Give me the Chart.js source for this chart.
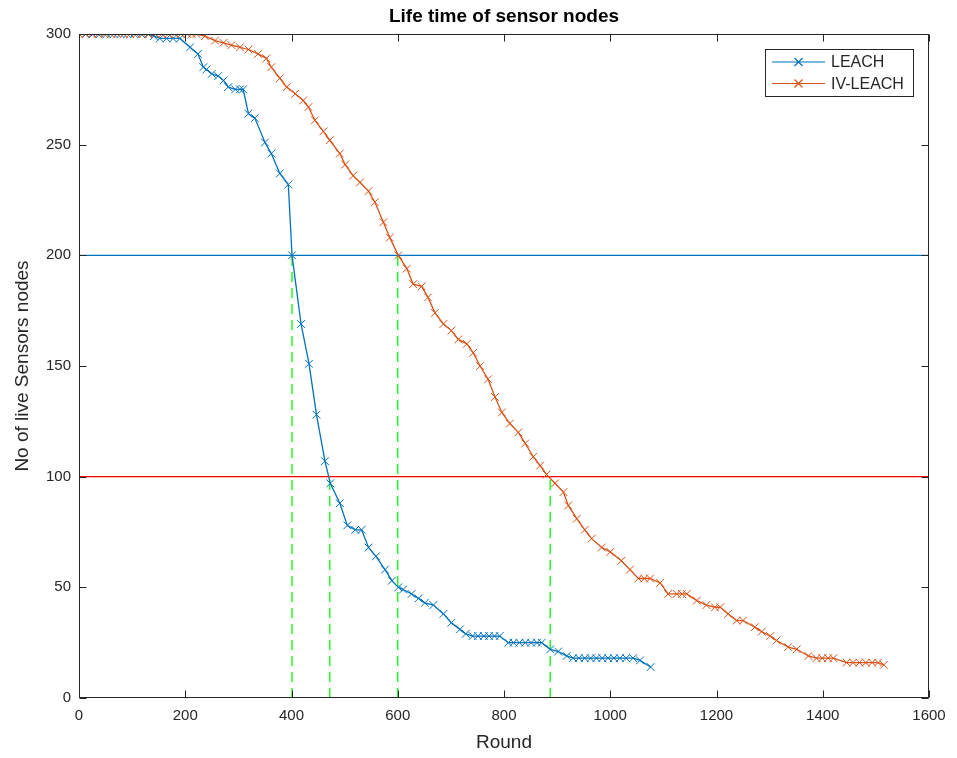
<!DOCTYPE html>
<html>
<head>
<meta charset="utf-8">
<title>Life time of sensor nodes</title>
<script src="https://cdn.jsdelivr.net/npm/chart.js@4.4.0/dist/chart.umd.min.js"></script>
<style>
  html, body { margin: 0; padding: 0; background: #fff; }
  #wrap { width: 957px; height: 758px; }
</style>
</head>
<body>
<div id="wrap"><canvas id="lifeChart" width="957" height="758"></canvas></div>
<script>
// LEACH - rounds / alive nodes
const leachRounds = [0,13,26,39,52,65,78,91,104,117,130,141,152,165,177,190,209,224,234,240,
  250,262,272,281,294,303,309,319,331,350,362,378,394,401,418,433,447,463,473,491,
  505,520,532,545,559,576,589,601,610,626,639,651,667,686,701,717,728,741,751,762,
  772,782,792,808,818,829,840,851,862,871,887,902,918,930,941,952,963,974,985,996,
  1007,1018,1030,1043,1056,1076];
const leachAlive = [300,300,300,300,300,300,300,300,300,300,300,299,298,298,298,298,294,291,285,284,
  282,281,279,276,275,275,275,264,262,251,246,237,232,200,169,151,128,107,97,88,
  78,76,76,68,64,58,53,50,49,47,45,43,42,38,34,31,29,28,28,28,
  28,28,28,25,25,25,25,25,25,25,22,21,19,18,18,18,18,18,18,18,
  18,18,18,18,17,14];

// IV-LEACH
const ivRounds = [0,12,24,36,48,60,72,84,96,108,120,132,144,156,168,180,192,204,212,221,
  237,256,272,287,303,319,337,353,362,378,391,407,422,432,444,460,472,491,501,516,
  529,545,557,573,585,601,617,629,645,657,670,686,701,714,730,742,755,770,783,796,
  811,827,840,855,868,880,896,912,921,937,952,965,984,1000,1021,1037,1053,1064,1075,1094,
  1109,1125,1135,1144,1163,1181,1197,1207,1222,1238,1250,1272,1285,1301,1313,1335,1351,1373,1388,1399,
  1410,1420,1445,1457,1469,1481,1493,1504,1515];
const ivAlive = [300,300,300,300,300,300,300,300,300,300,300,300,300,300,300,300,300,300,300,300,
  299,297,296,295,294,293,291,289,285,280,276,273,270,267,261,256,252,246,241,236,
  233,229,224,215,208,200,194,187,186,181,174,169,166,162,160,156,150,144,136,129,
  124,120,115,109,105,101,97,93,87,81,76,72,68,66,62,58,54,54,54,52,
  47,47,47,47,44,42,41,41,38,35,35,32,30,28,26,23,22,19,18,18,
  18,18,16,16,16,16,16,16,15];

// reference levels and where each curve crosses them
const levels = [200, 100];
const cross200 = [401, 600];
const cross100 = [472, 887];

const xTicks = [0,200,400,600,800,1000,1200,1400,1600];
const yTicks = [0,50,100,150,200,250,300];

const FONT = 'Arial, "Liberation Sans", Helvetica, sans-serif';
const INK = '#262626';
const BLUE = '#0072BD';
const ORANGE = '#D95319';

function pts(xs, ys) { return xs.map((v, i) => ({x: v, y: ys[i]})); }

function refLine(data, color, dash, ord) {
  return {
    label: '_ref', data: data, borderColor: color, borderWidth: 1.3,
    borderDash: dash, pointRadius: 0, fill: false, order: ord, tension: 0
  };
}

const refSets = [
  refLine([{x: 0, y: levels[0]}, {x: 1600, y: levels[0]}], BLUE, [], 5),
  refLine([{x: 0, y: levels[1]}, {x: 1600, y: levels[1]}], '#FF0000', [], 5)
];
cross200.forEach(r => refSets.push(refLine([{x: r, y: 0}, {x: r, y: levels[0]}], '#00FF00', [10, 6], 4)));
cross100.forEach(r => refSets.push(refLine([{x: r, y: 0}, {x: r, y: levels[1]}], '#00FF00', [10, 6], 4)));

const series = [
  {label: 'LEACH', color: BLUE},
  {label: 'IV-LEACH', color: ORANGE}
];

// box, inward ticks, title and legend drawn like the matlab figure
const matlabAxes = {
  id: 'matlabAxes',
  afterDraw(chart) {
    const {ctx, chartArea: a, scales} = chart;
    const L = Math.round(a.left) + 0.5, R = Math.round(a.right) - 0.5;
    const T = Math.round(a.top) + 0.5, B = Math.round(a.bottom) - 0.5;
    ctx.save();
    ctx.strokeStyle = INK;
    ctx.lineWidth = 1;
    ctx.strokeRect(L, T, R - L, B - T);
    ctx.beginPath();
    xTicks.forEach(v => {
      const px = Math.round(scales.x.getPixelForValue(v)) + 0.5;
      ctx.moveTo(px, B); ctx.lineTo(px, B - 7);
      ctx.moveTo(px, T); ctx.lineTo(px, T + 7);
    });
    yTicks.forEach(v => {
      const py = Math.round(scales.y.getPixelForValue(v)) + 0.5;
      ctx.moveTo(L, py); ctx.lineTo(L + 7, py);
      ctx.moveTo(R, py); ctx.lineTo(R - 7, py);
    });
    ctx.stroke();

    // title
    ctx.fillStyle = '#000';
    ctx.font = 'bold 19px ' + FONT;
    ctx.textAlign = 'center';
    ctx.textBaseline = 'middle';
    ctx.fillText('Life time of sensor nodes', (a.left + a.right) / 2, 17);

    // legend
    const bx = 765.5, by = 49.5, bw = 148, bh = 47;
    ctx.fillStyle = '#fff';
    ctx.fillRect(bx, by, bw, bh);
    ctx.strokeStyle = INK;
    ctx.strokeRect(bx, by, bw, bh);
    ctx.font = '16px ' + FONT;
    ctx.textAlign = 'left';
    series.forEach((s, i) => {
      const yy = 62 + i * 21.5;
      ctx.strokeStyle = s.color;
      ctx.lineWidth = 1.2;
      ctx.beginPath();
      ctx.moveTo(772, yy); ctx.lineTo(825, yy);
      ctx.moveTo(794.5, yy - 4); ctx.lineTo(802.5, yy + 4);
      ctx.moveTo(794.5, yy + 4); ctx.lineTo(802.5, yy - 4);
      ctx.stroke();
      ctx.fillStyle = INK;
      ctx.fillText(s.label, 831, yy + 1);
    });
    ctx.restore();
  }
};

const curve = (s, xs, ys, ord) => ({
  label: s.label, data: pts(xs, ys), borderColor: s.color, backgroundColor: s.color,
  borderWidth: 1.3, pointStyle: 'crossRot', pointRadius: 5.5, pointBorderWidth: 1,
  pointBorderColor: s.color, fill: false, tension: 0, order: ord
});

new Chart(document.getElementById('lifeChart'), {
  type: 'line',
  data: {
    datasets: [
      curve(series[0], leachRounds, leachAlive, 2),
      curve(series[1], ivRounds, ivAlive, 1)
    ].concat(refSets)
  },
  options: {
    responsive: false,
    devicePixelRatio: 1,
    animation: false,
    layout: {padding: {top: 34, right: 28, left: 0, bottom: 0}},
    plugins: {legend: {display: false}, tooltip: {enabled: false}, title: {display: false}},
    scales: {
      x: {
        type: 'linear', min: 0, max: 1600,
        afterBuildTicks: sc => { sc.ticks = xTicks.map(v => ({value: v})); },
        afterFit: sc => { sc.height = 60; },
        grid: {display: false, drawTicks: false},
        border: {display: false},
        ticks: {color: INK, font: {family: FONT, size: 15}, padding: 9, maxRotation: 0,
          callback: v => String(v)},
        title: {display: true, text: 'Round', color: INK, font: {family: FONT, size: 19}, padding: {top: 0, bottom: 4}}
      },
      y: {
        type: 'linear', min: 0, max: 300,
        afterBuildTicks: sc => { sc.ticks = yTicks.map(v => ({value: v})); },
        afterFit: sc => { sc.width = 79; },
        grid: {display: false, drawTicks: false},
        border: {display: false},
        ticks: {color: INK, font: {family: FONT, size: 15}, padding: 8, callback: v => String(v)},
        title: {display: true, text: 'No of live Sensors nodes', color: INK, font: {family: FONT, size: 19}, padding: {top: 11, bottom: 0}}
      }
    }
  },
  plugins: [matlabAxes]
});
</script>
</body>
</html>
